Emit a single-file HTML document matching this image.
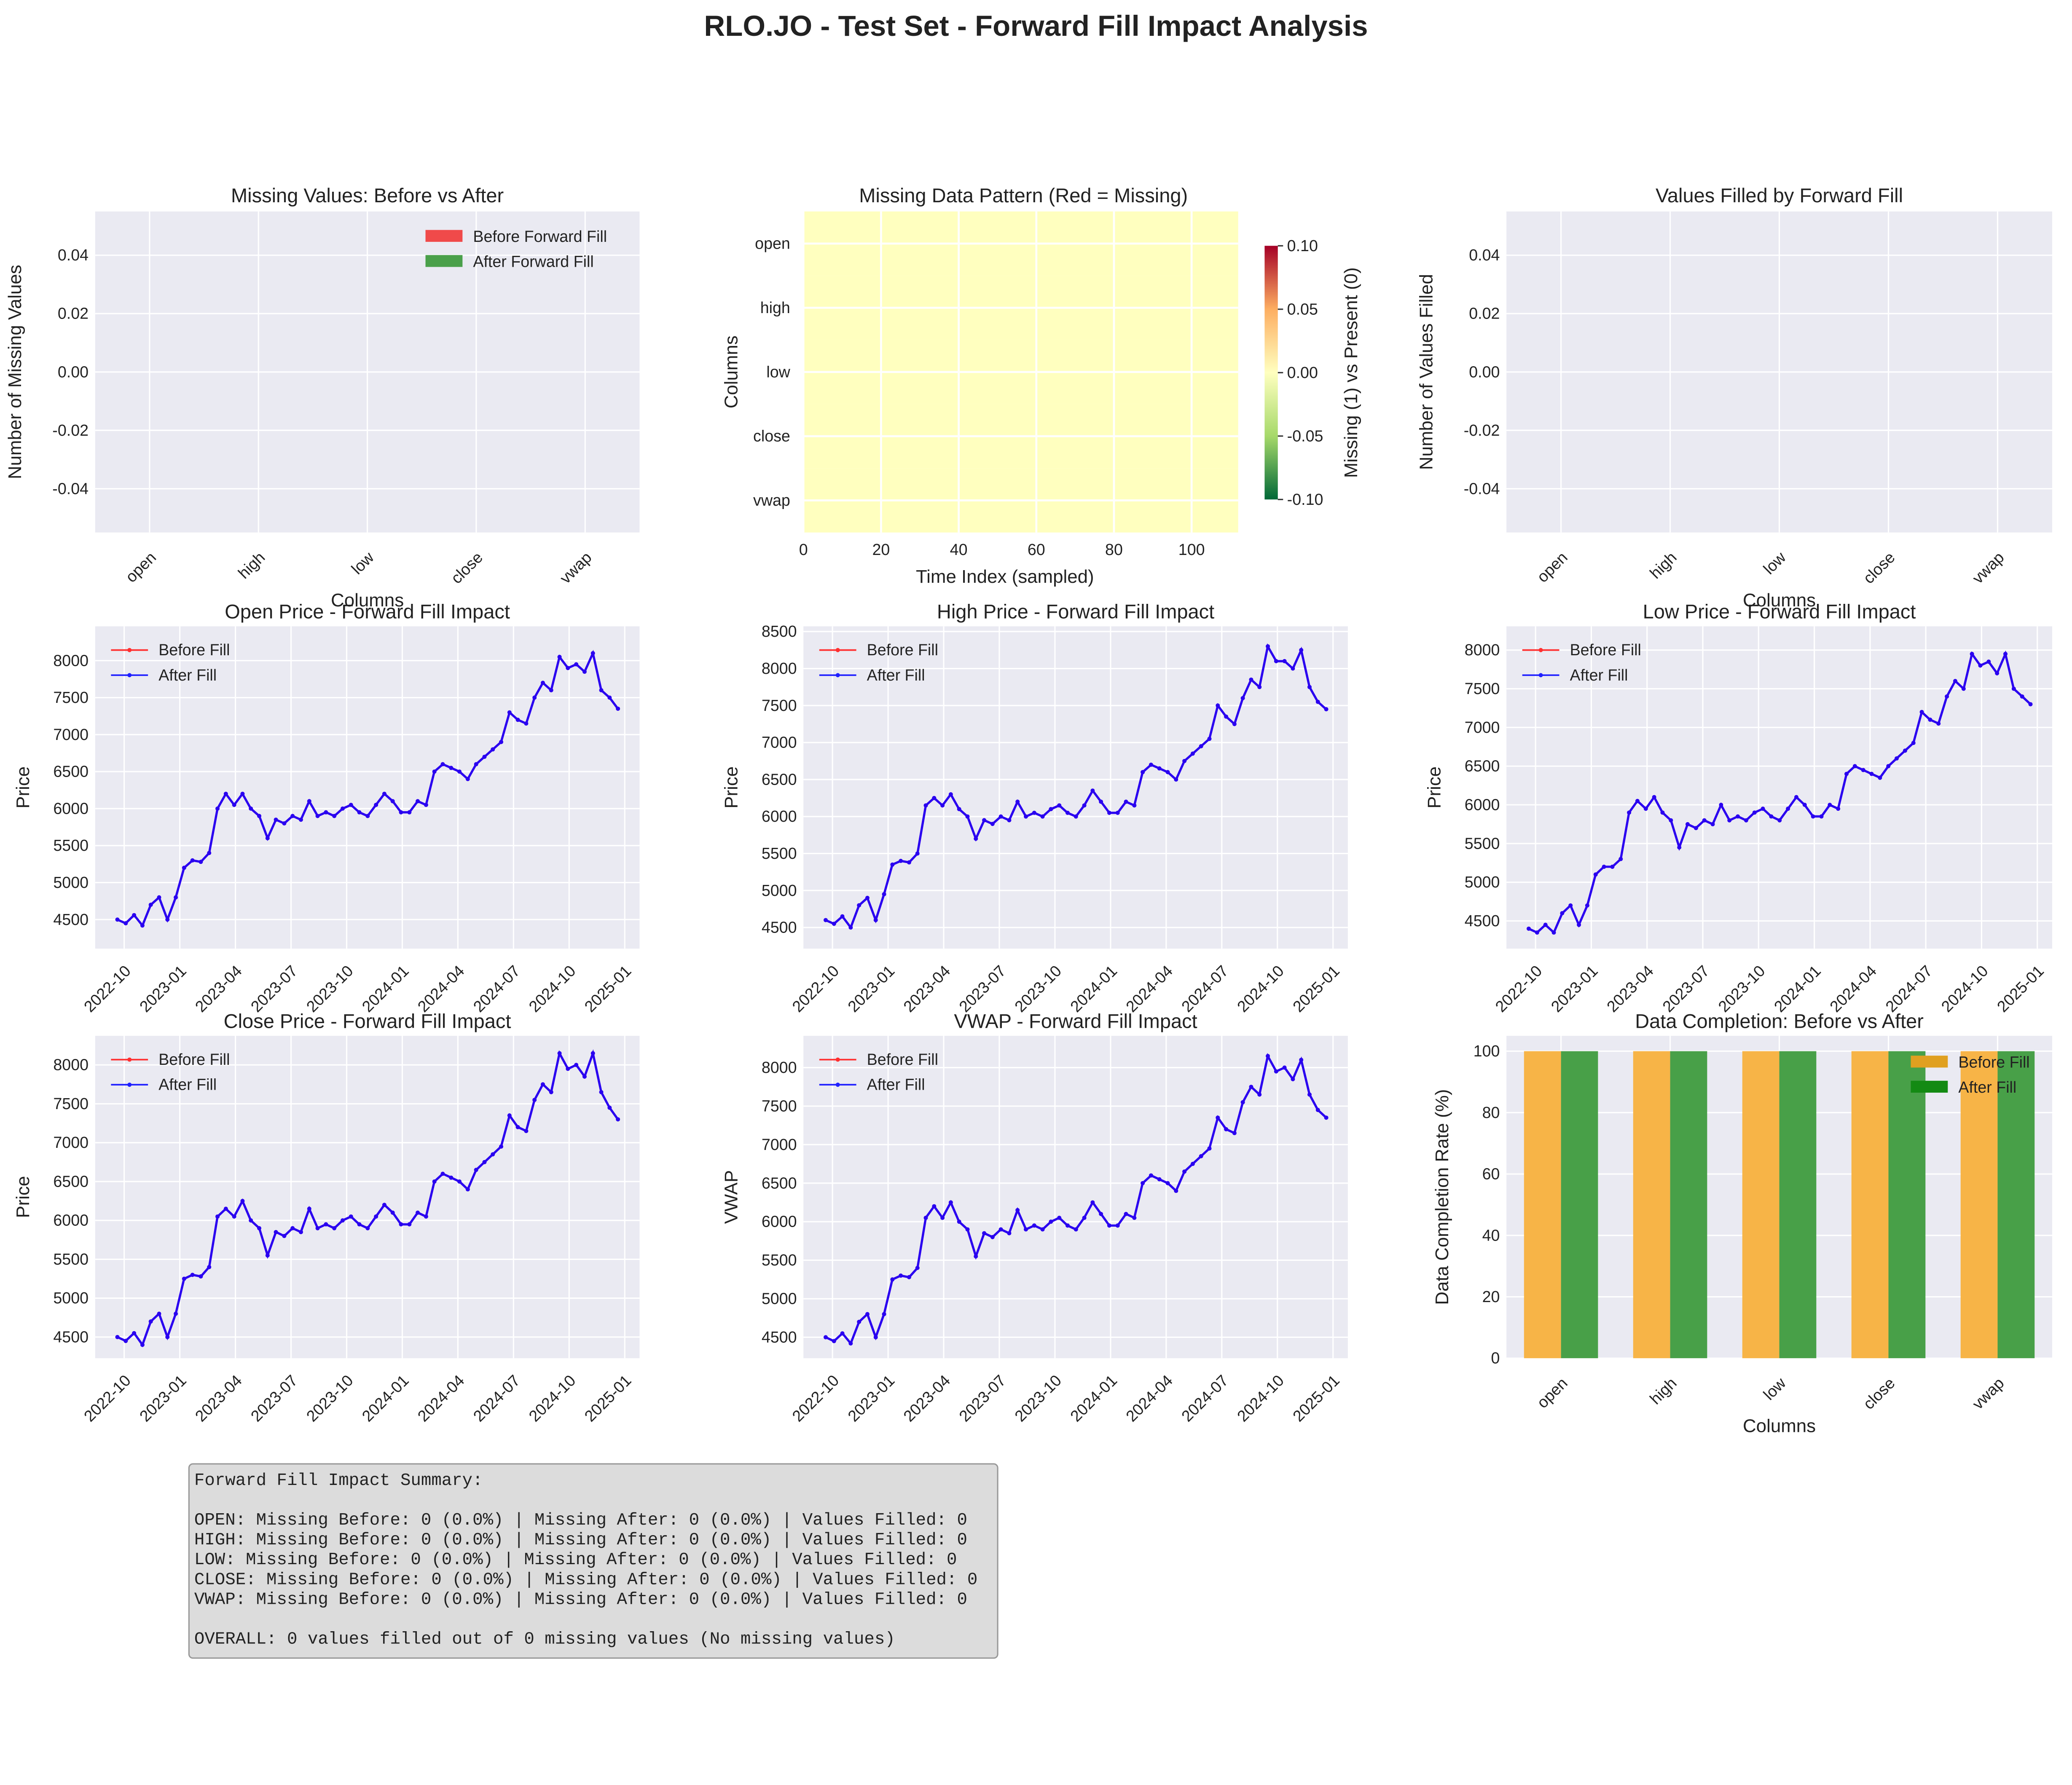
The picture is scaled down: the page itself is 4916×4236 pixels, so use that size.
<!DOCTYPE html>
<html><head><meta charset="utf-8"><style>
html,body{margin:0;padding:0;background:#fff}
svg{display:block}
text{font-family:"Liberation Sans",sans-serif;fill:#222}
.mono{font-family:"Liberation Mono",monospace}
</style></head><body>
<svg id="s" width="4916" height="4236" viewBox="0 0 1568 1351" xmlns="http://www.w3.org/2000/svg">
<rect width="1568" height="1351" fill="#fff"/>
<text x="784" y="27" text-anchor="middle" font-size="22" font-weight="bold">RLO.JO - Test Set - Forward Fill Impact Analysis</text>
<g id="root"></g>
<g>
<rect x="143" y="1108" width="612" height="147" rx="3" fill="#dcdcdc" stroke="#999"/>
<text class="mono" font-size="13" x="147" y="1124" xml:space="preserve"><tspan x="147" dy="0">Forward Fill Impact Summary:</tspan><tspan x="147" dy="30">OPEN: Missing Before: 0 (0.0%) | Missing After: 0 (0.0%) | Values Filled: 0</tspan><tspan x="147" dy="15">HIGH: Missing Before: 0 (0.0%) | Missing After: 0 (0.0%) | Values Filled: 0</tspan><tspan x="147" dy="15">LOW: Missing Before: 0 (0.0%) | Missing After: 0 (0.0%) | Values Filled: 0</tspan><tspan x="147" dy="15">CLOSE: Missing Before: 0 (0.0%) | Missing After: 0 (0.0%) | Values Filled: 0</tspan><tspan x="147" dy="15">VWAP: Missing Before: 0 (0.0%) | Missing After: 0 (0.0%) | Values Filled: 0</tspan><tspan x="147" dy="30">OVERALL: 0 values filled out of 0 missing values (No missing values)</tspan></text>
</g>
</svg>
<script>
const cols=["open","high","low","close","vwap"];
const openVals=[4500,4450,4560,4420,4700,4800,4500,4800,5200,5300,5280,5400,6000,6200,6050,6200,6000,5900,5600,5850,5800,5900,5850,6100,5900,5950,5900,6000,6050,5950,5900,6050,6200,6100,5950,5950,6100,6050,6500,6600,6550,6500,6400,6600,6700,6800,6900,7300,7200,7150,7500,7700,7600,8050,7900,7950,7850,8100,7600,7500,7350];
const highVals=[4600,4550,4650,4500,4800,4900,4600,4950,5350,5400,5380,5500,6150,6250,6150,6300,6100,6000,5700,5950,5900,6000,5950,6200,6000,6050,6000,6100,6150,6050,6000,6150,6350,6200,6050,6050,6200,6150,6600,6700,6650,6600,6500,6750,6850,6950,7050,7500,7350,7250,7600,7850,7750,8300,8100,8100,8000,8250,7750,7550,7450];
const lowVals=[4400,4350,4450,4350,4600,4700,4450,4700,5100,5200,5200,5300,5900,6050,5950,6100,5900,5800,5450,5750,5700,5800,5750,6000,5800,5850,5800,5900,5950,5850,5800,5950,6100,6000,5850,5850,6000,5950,6400,6500,6450,6400,6350,6500,6600,6700,6800,7200,7100,7050,7400,7600,7500,7950,7800,7850,7700,7950,7500,7400,7300];
const closeVals=[4500,4450,4550,4400,4700,4800,4500,4800,5250,5300,5280,5400,6050,6150,6050,6250,6000,5900,5550,5850,5800,5900,5850,6150,5900,5950,5900,6000,6050,5950,5900,6050,6200,6100,5950,5950,6100,6050,6500,6600,6550,6500,6400,6650,6750,6850,6950,7350,7200,7150,7550,7750,7650,8150,7950,8000,7850,8150,7650,7450,7300];
const vwapVals=[4500,4450,4550,4420,4700,4800,4500,4800,5250,5300,5280,5400,6050,6200,6050,6250,6000,5900,5550,5850,5800,5900,5850,6150,5900,5950,5900,6000,6050,5950,5900,6050,6250,6100,5950,5950,6100,6050,6500,6600,6550,6500,6400,6650,6750,6850,6950,7350,7200,7150,7550,7750,7650,8150,7950,8000,7850,8100,7650,7450,7350];
const dateTicks=["2022-10","2023-01","2023-04","2023-07","2023-10","2024-01","2024-04","2024-07","2024-10","2025-01"];
const completionBefore=[100,100,100,100,100];
const completionAfter=[100,100,100,100,100];
const emptyTicks=[-0.04,-0.02,0.00,0.02,0.04];
const heatTicks=[0,20,40,60,80,100];
const cbTicks=[-0.10,-0.05,0.00,0.05,0.10];

const NS="http://www.w3.org/2000/svg";
const root=document.getElementById('root');
function mk(tag,attrs,parent,txt){const e=document.createElementNS(NS,tag);for(const k in attrs)e.setAttribute(k,attrs[k]);if(txt!==undefined)e.textContent=txt;(parent||root).appendChild(e);return e;}
function lin(d0,d1,r0,r1){return v=>r0+(v-d0)/(d1-d0)*(r1-r0);}
function frame(x0,y0,x1,y1,name){const g=mk('g',{});mk('rect',{x:x0,y:y0,width:x1-x0,height:y1-y0,fill:'#eaeaf2'},g);return g;}
function yaxis(g,x0,x1,ticks,sy,fmt){ticks.forEach(t=>{const y=sy(t);mk('line',{x1:x0,x2:x1,y1:y,y2:y,stroke:'#fff','stroke-width':1},g);const tx=mk('text',{x:x0-5,y:y+4,'text-anchor':'end','font-size':12},g,fmt(t));});}
function title(g,x,y,t){const e=mk('text',{x:x,y:y,'text-anchor':'middle','font-size':15},g,t);}
function ylabel(g,x,y,t){const e=mk('text',{x:x,y:y,'text-anchor':'middle','font-size':14,transform:`rotate(-90 ${x} ${y})`},g,t);}
function xlabel(g,x,y,t){const e=mk('text',{x:x,y:y,'text-anchor':'middle','font-size':14},g,t);}
function catTicks(g,x0,x1,y1,gridTop){const step=(x1-x0)/5;cols.forEach((c,i)=>{const x=x0+step*(i+0.5);mk('line',{x1:x,x2:x,y1:gridTop,y2:y1,stroke:'#fff'},g);const e=mk('text',{x:x,y:y1+22,'text-anchor':'end','font-size':12,transform:`rotate(-45 ${x} ${y1+14})`},g,c);});}
function legend(g,x,y,items,w){items.forEach((it,i)=>{const yy=y+i*19;const r=mk('rect',{x:x,y:yy-5,width:w,height:9,fill:it[1]},g);const t=mk('text',{x:x+w+8,y:yy+4,'font-size':12},g,it[0]);});}

function emptyPlot(x0,x1,ttl,yl,name,leg){const y0=160,y1=403;const g=frame(x0,y0,x1,y1,name);const sy=lin(-0.055,0.055,y1,y0);yaxis(g,x0,x1,emptyTicks,sy,t=>t.toFixed(2));catTicks(g,x0,x1,y1,y0);title(g,(x0+x1)/2,153,ttl);ylabel(g,x0-56,(y0+y1)/2,yl);xlabel(g,(x0+x1)/2,459,"Columns");if(leg)legend(g,x1-162,179,[["Before Forward Fill","#f04a4a"],["After Forward Fill","#4aa04a"]],28);}
emptyPlot(72,484,"Missing Values: Before vs After","Number of Missing Values","missing-values-chart",true);
emptyPlot(1140,1553,"Values Filled by Forward Fill","Number of Values Filled","values-filled-chart",false);

(function(){const x0=608,x1=937,y0=160,y1=403;const g=mk('g',{});
const sx=lin(0,112,x0,x1);const rh=(y1-y0)/cols.length;
cols.forEach((c,i)=>{const cell=mk('rect',{x:x0,y:y0+i*rh,width:x1-x0,height:rh,fill:'#ffffbf'},g);});
heatTicks.forEach(t=>{const x=sx(t);mk('line',{x1:x,x2:x,y1:y0,y2:y1,stroke:'#fff','stroke-width':1.5},g);const e=mk('text',{x:x,y:y1+17,'text-anchor':'middle','font-size':12},g,t);});
cols.forEach((c,i)=>{const y=y0+(i+0.5)*rh;mk('line',{x1:x0,x2:x1,y1:y,y2:y,stroke:'#fff','stroke-width':1.5},g);const e=mk('text',{x:x0-10,y:y+4,'text-anchor':'end','font-size':12},g,c);});
title(g,(x0+x1)/2+2,153,"Missing Data Pattern (Red = Missing)");ylabel(g,558,(y0+y1)/2,"Columns");xlabel(g,(x0+x1)/2-12,441,"Time Index (sampled)");
const defs=mk('defs',{},g);const lg=mk('linearGradient',{id:'cb',x1:0,y1:1,x2:0,y2:0},defs);
[["0","#006837"],["0.25","#a6d96a"],["0.5","#ffffbf"],["0.75","#fdae61"],["1","#a50026"]].forEach(s=>mk('stop',{offset:s[0],'stop-color':s[1]},lg));
const cb=mk('rect',{x:957,y:186,width:10,height:192,fill:'url(#cb)'},g);
const sc=lin(-0.1,0.1,378,186);cbTicks.forEach(t=>{const y=sc(t);mk('line',{x1:967,x2:971,y1:y,y2:y,stroke:'#333'},g);const e=mk('text',{x:974,y:y+4,'font-size':12},g,t.toFixed(2));});
ylabel(g,1027,282,"Missing (1) vs Present (0)");})();

function dateToM(s){const p=s.split('-');return (+p[0]-2022)*12+(+p[1]-1)+((+p[2]||1)-1)/30;}
const startM=dateToM("2022-09-20");
function pricePlot(x0,y0,x1,y1,vals,ymin,ymax,ticks,ttl,yl,name){const g=frame(x0,y0,x1,y1,name);
const sx=lin(dateToM("2022-08-14"),dateToM("2025-01-25"),x0,x1);const sy=lin(ymin,ymax,y1,y0);
yaxis(g,x0,x1,ticks,sy,t=>t);
dateTicks.forEach(d=>{const x=sx(dateToM(d+"-01"));mk('line',{x1:x,x2:x,y1:y0,y2:y1,stroke:'#fff'},g);const e=mk('text',{x:x,y:y1+20,'text-anchor':'end','font-size':12,transform:`rotate(-45 ${x} ${y1+12})`},g,d);});
const span=dateToM("2024-12-20")-startM;const pts=vals.map((v,i)=>[sx(startM+span*i/(vals.length-1)),sy(v)]);
const ps=pts.map(p=>p[0].toFixed(1)+','+p[1].toFixed(1)).join(' ');
const r=mk('polyline',{points:ps,fill:'none',stroke:'#ff0000','stroke-width':1.5},g);
const b=mk('polyline',{points:ps,fill:'none',stroke:'#2a00f0','stroke-width':1.7},g);
pts.forEach(p=>{const c=mk('circle',{cx:p[0],cy:p[1],r:1.6,fill:'#2a00f0'},g);});
title(g,(x0+x1)/2,y0-6,ttl);ylabel(g,x0-50,(y0+y1)/2,yl);
[["Before Fill","#ff3030"],["After Fill","#2020ff"]].forEach((it,i)=>{const yy=y0+18+i*19;const l=mk('line',{x1:x0+12,x2:x0+40,y1:yy,y2:yy,stroke:it[1],'stroke-width':1.2},g);mk('circle',{cx:x0+26,cy:yy,r:1.6,fill:it[1]},g);const t=mk('text',{x:x0+48,y:yy+4,'font-size':12},g,it[0]);});}
const t45=[4500,5000,5500,6000,6500,7000,7500,8000];
pricePlot(72,474,484,718,openVals,4107,8464,t45,"Open Price - Forward Fill Impact","Price","open-price-chart");
pricePlot(608,474,1020,718,highVals,4214,8571,[4500,5000,5500,6000,6500,7000,7500,8000,8500],"High Price - Forward Fill Impact","Price","high-price-chart");
pricePlot(1140,474,1553,718,lowVals,4142,8307,t45,"Low Price - Forward Fill Impact","Price","low-price-chart");
pricePlot(72,784,484,1028,closeVals,4228,8374,t45,"Close Price - Forward Fill Impact","Price","close-price-chart");
pricePlot(608,784,1020,1028,vwapVals,4228,8412,t45,"VWAP - Forward Fill Impact","VWAP","vwap-chart");

(function(){const x0=1140,x1=1553,y0=784,y1=1028;const g=frame(x0,y0,x1,y1,'data-completion-chart');const sy=lin(0,105,y1,y0);
yaxis(g,x0,x1,[0,20,40,60,80,100],sy,t=>t);catTicks(g,x0,x1,y1,y0);
const step=(x1-x0)/5,bw=28;
cols.forEach((c,i)=>{const cx=x0+step*(i+0.5);
const a=mk('rect',{x:cx-bw,y:sy(completionBefore[i]),width:bw,height:y1-sy(completionBefore[i]),fill:'#f7b447'},g);
const b=mk('rect',{x:cx,y:sy(completionAfter[i]),width:bw,height:y1-sy(completionAfter[i]),fill:'#48a048'},g);});
title(g,(x0+x1)/2,778,"Data Completion: Before vs After");ylabel(g,x0-44,(y0+y1)/2,"Data Completion Rate (%)");xlabel(g,(x0+x1)/2,1084,"Columns");
legend(g,1446,804,[["Before Fill","#e0a020"],["After Fill","#138a13"]],28);})();
</script>
</body></html>
